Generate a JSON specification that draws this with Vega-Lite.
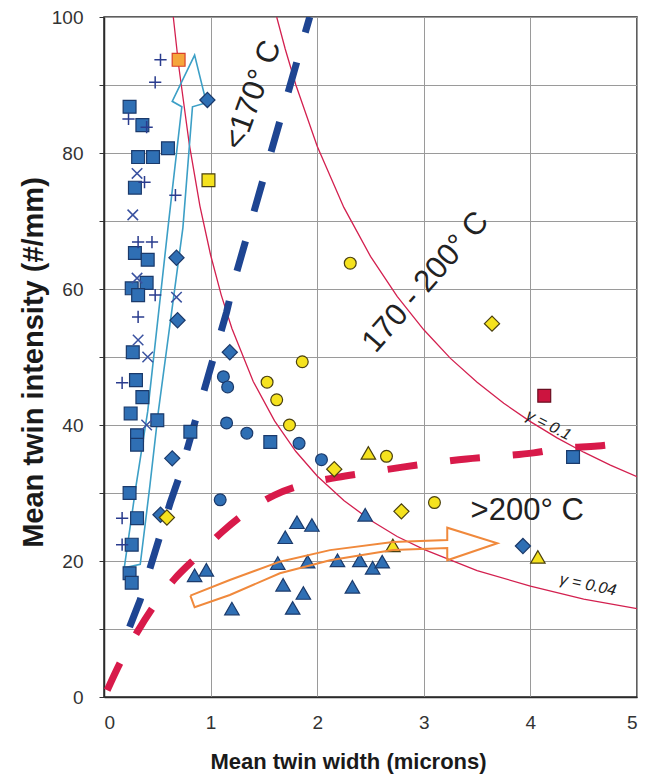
{
  "$schema": "https://vega.github.io/schema/vega-lite/v6.json",
  "width": 533,
  "height": 680,
  "autosize": {"type": "none"},
  "padding": {"left": 104, "top": 17, "right": 17, "bottom": 83},
  "background": "#ffffff",
  "config": {
    "font": "Liberation Sans",
    "view": {"stroke": "#2a2a2a", "strokeWidth": 1.5},
    "axis": {
      "grid": true,
      "gridColor": "#9a9a9a",
      "gridWidth": 1,
      "domainColor": "#2a2a2a",
      "domainWidth": 1.5,
      "labelFont": "Liberation Sans",
      "labelFontSize": 19,
      "labelColor": "#333333",
      "titleFont": "Liberation Sans",
      "titleFontWeight": "bold",
      "titleColor": "#1a1a1a"
    }
  },
  "datasets": {
    "pts": [
      {"x": 0.24, "y": 86.8, "m": "square", "c": "blue"},
      {"x": 0.36, "y": 84.1, "m": "square", "c": "blue"},
      {"x": 0.6, "y": 80.7, "m": "square", "c": "blue"},
      {"x": 0.46, "y": 79.4, "m": "square", "c": "blue"},
      {"x": 0.32, "y": 79.4, "m": "square", "c": "blue"},
      {"x": 0.29, "y": 74.9, "m": "square", "c": "blue"},
      {"x": 0.29, "y": 65.3, "m": "square", "c": "blue"},
      {"x": 0.41, "y": 64.3, "m": "square", "c": "blue"},
      {"x": 0.4, "y": 60.9, "m": "square", "c": "blue"},
      {"x": 0.26, "y": 60.1, "m": "square", "c": "blue"},
      {"x": 0.32, "y": 59.1, "m": "square", "c": "blue"},
      {"x": 0.27, "y": 50.7, "m": "square", "c": "blue"},
      {"x": 0.3, "y": 46.6, "m": "square", "c": "blue"},
      {"x": 0.36, "y": 44.1, "m": "square", "c": "blue"},
      {"x": 0.25, "y": 41.7, "m": "square", "c": "blue"},
      {"x": 0.5, "y": 40.7, "m": "square", "c": "blue"},
      {"x": 0.81, "y": 39.0, "m": "square", "c": "blue"},
      {"x": 0.31, "y": 38.5, "m": "square", "c": "blue"},
      {"x": 0.31, "y": 37.1, "m": "square", "c": "blue"},
      {"x": 0.24, "y": 30.0, "m": "square", "c": "blue"},
      {"x": 0.31, "y": 26.3, "m": "square", "c": "blue"},
      {"x": 0.26, "y": 22.4, "m": "square", "c": "blue"},
      {"x": 0.24, "y": 18.2, "m": "square", "c": "blue"},
      {"x": 0.26, "y": 16.8, "m": "square", "c": "blue"},
      {"x": 1.56, "y": 37.5, "m": "square", "c": "blue"},
      {"x": 4.4, "y": 35.3, "m": "square", "c": "blue"},
      {"x": 0.97, "y": 87.8, "m": "diamond", "c": "blue"},
      {"x": 0.68, "y": 64.6, "m": "diamond", "c": "blue"},
      {"x": 0.69, "y": 55.4, "m": "diamond", "c": "blue"},
      {"x": 1.18, "y": 50.7, "m": "diamond", "c": "blue"},
      {"x": 0.64, "y": 35.1, "m": "diamond", "c": "blue"},
      {"x": 0.53, "y": 26.8, "m": "diamond", "c": "blue"},
      {"x": 3.93, "y": 22.2, "m": "diamond", "c": "blue"},
      {"x": 1.12, "y": 47.1, "m": "circle", "c": "blue"},
      {"x": 1.16, "y": 45.6, "m": "circle", "c": "blue"},
      {"x": 1.15, "y": 40.3, "m": "circle", "c": "blue"},
      {"x": 1.09, "y": 29.0, "m": "circle", "c": "blue"},
      {"x": 1.34, "y": 38.8, "m": "circle", "c": "blue"},
      {"x": 1.83, "y": 37.3, "m": "circle", "c": "blue"},
      {"x": 2.04, "y": 34.9, "m": "circle", "c": "blue"},
      {"x": 0.85, "y": 17.9, "m": "triangle", "c": "blue"},
      {"x": 0.96, "y": 18.7, "m": "triangle", "c": "blue"},
      {"x": 1.2, "y": 13.0, "m": "triangle", "c": "blue"},
      {"x": 1.7, "y": 23.5, "m": "triangle", "c": "blue"},
      {"x": 1.81, "y": 25.7, "m": "triangle", "c": "blue"},
      {"x": 1.95, "y": 25.3, "m": "triangle", "c": "blue"},
      {"x": 1.63, "y": 19.7, "m": "triangle", "c": "blue"},
      {"x": 1.91, "y": 19.9, "m": "triangle", "c": "blue"},
      {"x": 1.68, "y": 16.5, "m": "triangle", "c": "blue"},
      {"x": 1.87, "y": 15.3, "m": "triangle", "c": "blue"},
      {"x": 1.77, "y": 13.1, "m": "triangle", "c": "blue"},
      {"x": 2.19, "y": 20.1, "m": "triangle", "c": "blue"},
      {"x": 2.33, "y": 16.2, "m": "triangle", "c": "blue"},
      {"x": 2.4, "y": 20.1, "m": "triangle", "c": "blue"},
      {"x": 2.45, "y": 26.8, "m": "triangle", "c": "blue"},
      {"x": 2.52, "y": 19.0, "m": "triangle", "c": "blue"},
      {"x": 2.61, "y": 19.9, "m": "triangle", "c": "blue"},
      {"x": 0.98, "y": 76.0, "m": "square", "c": "yellow"},
      {"x": 2.31, "y": 63.8, "m": "circle", "c": "yellow"},
      {"x": 1.86, "y": 49.3, "m": "circle", "c": "yellow"},
      {"x": 1.53, "y": 46.3, "m": "circle", "c": "yellow"},
      {"x": 1.62, "y": 43.7, "m": "circle", "c": "yellow"},
      {"x": 1.74, "y": 40.0, "m": "circle", "c": "yellow"},
      {"x": 2.65, "y": 35.4, "m": "circle", "c": "yellow"},
      {"x": 3.1, "y": 28.6, "m": "circle", "c": "yellow"},
      {"x": 3.64, "y": 54.9, "m": "diamond", "c": "yellow"},
      {"x": 2.16, "y": 33.5, "m": "diamond", "c": "yellow"},
      {"x": 2.79, "y": 27.3, "m": "diamond", "c": "yellow"},
      {"x": 0.59, "y": 26.4, "m": "diamond", "c": "yellow"},
      {"x": 2.48, "y": 35.9, "m": "triangle", "c": "yellow"},
      {"x": 2.71, "y": 22.3, "m": "triangle", "c": "yellow"},
      {"x": 4.07, "y": 20.6, "m": "triangle", "c": "yellow"},
      {"x": 4.13, "y": 44.3, "m": "square", "c": "red"},
      {"x": 0.7, "y": 93.7, "m": "square", "c": "orange"},
      {"x": 0.53, "y": 93.7, "m": "plus", "c": "navy"},
      {"x": 0.48, "y": 90.4, "m": "plus", "c": "navy"},
      {"x": 0.23, "y": 85.0, "m": "plus", "c": "navy"},
      {"x": 0.4, "y": 83.8, "m": "plus", "c": "navy"},
      {"x": 0.38, "y": 75.7, "m": "plus", "c": "navy"},
      {"x": 0.67, "y": 73.8, "m": "plus", "c": "navy"},
      {"x": 0.32, "y": 66.9, "m": "plus", "c": "navy"},
      {"x": 0.45, "y": 66.9, "m": "plus", "c": "navy"},
      {"x": 0.48, "y": 59.1, "m": "plus", "c": "navy"},
      {"x": 0.32, "y": 55.9, "m": "plus", "c": "navy"},
      {"x": 0.17, "y": 46.2, "m": "plus", "c": "navy"},
      {"x": 0.17, "y": 26.3, "m": "plus", "c": "navy"},
      {"x": 0.17, "y": 22.4, "m": "plus", "c": "navy"},
      {"x": 0.31, "y": 77.0, "m": "cross", "c": "navy"},
      {"x": 0.27, "y": 70.9, "m": "cross", "c": "navy"},
      {"x": 0.31, "y": 61.6, "m": "cross", "c": "navy"},
      {"x": 0.68, "y": 58.8, "m": "cross", "c": "navy"},
      {"x": 0.32, "y": 52.5, "m": "cross", "c": "navy"},
      {"x": 0.41, "y": 50.0, "m": "cross", "c": "navy"},
      {"x": 0.4, "y": 40.0, "m": "cross", "c": "navy"}
    ],
    "lines": [
      {"k": "g004", "i": 0, "x": 0.65, "y": 100},
      {"k": "g004", "i": 1, "x": 0.7, "y": 92.9},
      {"k": "g004", "i": 2, "x": 0.8, "y": 81.3},
      {"k": "g004", "i": 3, "x": 0.9, "y": 72.2},
      {"k": "g004", "i": 4, "x": 1.0, "y": 65.0},
      {"k": "g004", "i": 5, "x": 1.1, "y": 59.1},
      {"k": "g004", "i": 6, "x": 1.2, "y": 54.2},
      {"k": "g004", "i": 7, "x": 1.4, "y": 46.4},
      {"k": "g004", "i": 8, "x": 1.6, "y": 40.6},
      {"k": "g004", "i": 9, "x": 1.8, "y": 36.1},
      {"k": "g004", "i": 10, "x": 2.0, "y": 32.5},
      {"k": "g004", "i": 11, "x": 2.25, "y": 28.9},
      {"k": "g004", "i": 12, "x": 2.5, "y": 26.0},
      {"k": "g004", "i": 13, "x": 2.75, "y": 23.6},
      {"k": "g004", "i": 14, "x": 3.0, "y": 21.7},
      {"k": "g004", "i": 15, "x": 3.5, "y": 18.6},
      {"k": "g004", "i": 16, "x": 4.0, "y": 16.3},
      {"k": "g004", "i": 17, "x": 4.5, "y": 14.4},
      {"k": "g004", "i": 18, "x": 5.0, "y": 13.0},
      {"k": "g01", "i": 0, "x": 1.62, "y": 100},
      {"k": "g01", "i": 1, "x": 1.7, "y": 95.3},
      {"k": "g01", "i": 2, "x": 1.8, "y": 90.0},
      {"k": "g01", "i": 3, "x": 2.0, "y": 81.0},
      {"k": "g01", "i": 4, "x": 2.25, "y": 72.0},
      {"k": "g01", "i": 5, "x": 2.5, "y": 64.8},
      {"k": "g01", "i": 6, "x": 2.75, "y": 58.9},
      {"k": "g01", "i": 7, "x": 3.0, "y": 54.0},
      {"k": "g01", "i": 8, "x": 3.25, "y": 49.8},
      {"k": "g01", "i": 9, "x": 3.5, "y": 46.3},
      {"k": "g01", "i": 10, "x": 3.75, "y": 43.2},
      {"k": "g01", "i": 11, "x": 4.0, "y": 40.5},
      {"k": "g01", "i": 12, "x": 4.25, "y": 38.1},
      {"k": "g01", "i": 13, "x": 4.5, "y": 36.0},
      {"k": "g01", "i": 14, "x": 4.75, "y": 34.1},
      {"k": "g01", "i": 15, "x": 5.0, "y": 32.4},
      {"k": "bdash", "i": 0, "x": 0.24, "y": 10.3},
      {"k": "bdash", "i": 1, "x": 0.34, "y": 14.3},
      {"k": "bdash", "i": 2, "x": 0.62, "y": 28.5},
      {"k": "bdash", "i": 3, "x": 0.71, "y": 32.6},
      {"k": "bdash", "i": 4, "x": 1.15, "y": 56.6},
      {"k": "bdash", "i": 5, "x": 1.21, "y": 60.6},
      {"k": "bdash", "i": 6, "x": 1.82, "y": 94.0},
      {"k": "bdash", "i": 7, "x": 1.93, "y": 100},
      {"k": "rdash", "i": 0, "x": 0.03, "y": 1.0},
      {"k": "rdash", "i": 1, "x": 0.15, "y": 5.0},
      {"k": "rdash", "i": 2, "x": 0.31, "y": 9.5},
      {"k": "rdash", "i": 3, "x": 0.46, "y": 13.2},
      {"k": "rdash", "i": 4, "x": 0.67, "y": 17.5},
      {"k": "rdash", "i": 5, "x": 0.87, "y": 20.6},
      {"k": "rdash", "i": 6, "x": 1.11, "y": 24.3},
      {"k": "rdash", "i": 7, "x": 1.32, "y": 27.0},
      {"k": "rdash", "i": 8, "x": 1.6, "y": 29.7},
      {"k": "rdash", "i": 9, "x": 1.86, "y": 31.2},
      {"k": "rdash", "i": 10, "x": 2.19, "y": 32.3},
      {"k": "rdash", "i": 11, "x": 2.47, "y": 33.0},
      {"k": "rdash", "i": 12, "x": 2.8, "y": 33.8},
      {"k": "rdash", "i": 13, "x": 3.08, "y": 34.4},
      {"k": "rdash", "i": 14, "x": 3.4, "y": 35.0},
      {"k": "rdash", "i": 15, "x": 3.7, "y": 35.4},
      {"k": "rdash", "i": 16, "x": 4.03, "y": 35.9},
      {"k": "rdash", "i": 17, "x": 4.3, "y": 36.6},
      {"k": "rdash", "i": 18, "x": 4.63, "y": 36.9},
      {"k": "rdash", "i": 19, "x": 4.97, "y": 37.6},
      {"k": "cyan", "i": 0, "x": 0.19, "y": 19.0},
      {"k": "cyan", "i": 1, "x": 0.3, "y": 31.0},
      {"k": "cyan", "i": 2, "x": 0.41, "y": 42.0},
      {"k": "cyan", "i": 3, "x": 0.6, "y": 69.0},
      {"k": "cyan", "i": 4, "x": 0.73, "y": 86.8},
      {"k": "cyan", "i": 5, "x": 0.64, "y": 87.6},
      {"k": "cyan", "i": 6, "x": 0.85, "y": 94.4},
      {"k": "cyan", "i": 7, "x": 0.96, "y": 87.4},
      {"k": "cyan", "i": 8, "x": 0.83, "y": 86.8},
      {"k": "cyan", "i": 9, "x": 0.74, "y": 69.0},
      {"k": "cyan", "i": 10, "x": 0.51, "y": 42.0},
      {"k": "cyan", "i": 11, "x": 0.43, "y": 31.0},
      {"k": "cyan", "i": 12, "x": 0.34, "y": 19.5},
      {"k": "cyan", "i": 13, "x": 0.19, "y": 19.0},
      {"k": "orange", "i": 0, "x": 0.81, "y": 14.9},
      {"k": "orange", "i": 1, "x": 1.18, "y": 17.2},
      {"k": "orange", "i": 2, "x": 1.65, "y": 19.9},
      {"k": "orange", "i": 3, "x": 2.12, "y": 21.6},
      {"k": "orange", "i": 4, "x": 2.71, "y": 22.8},
      {"k": "orange", "i": 5, "x": 3.22, "y": 23.1},
      {"k": "orange", "i": 6, "x": 3.22, "y": 24.9},
      {"k": "orange", "i": 7, "x": 3.69, "y": 22.6},
      {"k": "orange", "i": 8, "x": 3.22, "y": 20.1},
      {"k": "orange", "i": 9, "x": 3.22, "y": 21.9},
      {"k": "orange", "i": 10, "x": 2.71, "y": 21.6},
      {"k": "orange", "i": 11, "x": 2.12, "y": 20.1},
      {"k": "orange", "i": 12, "x": 1.65, "y": 18.2},
      {"k": "orange", "i": 13, "x": 1.18, "y": 15.0},
      {"k": "orange", "i": 14, "x": 0.85, "y": 13.2},
      {"k": "orange", "i": 15, "x": 0.81, "y": 14.9}
    ]
  },
  "encoding": {
    "x": {
      "field": "x",
      "type": "quantitative",
      "scale": {"domain": [0, 5], "nice": false, "zero": false},
      "axis": {
        "title": "Mean twin width (microns)",
        "values": [0, 1, 2, 3, 4, 5],
        "ticks": false,
        "labelPadding": 16,
        "labelDx": -5,
        "titleFontSize": 22,
        "titleX": 244,
        "titleY": 71,
        "titleBaseline": "alphabetic"
      }
    },
    "y": {
      "field": "y",
      "type": "quantitative",
      "scale": {"domain": [0, 100], "nice": false, "zero": false},
      "axis": {
        "title": "Mean twin intensity (#/mm)",
        "values": [0, 10, 20, 30, 40, 50, 60, 70, 80, 90, 100],
        "labelExpr": "datum.value % 20 === 0 ? datum.label : ''",
        "tickSize": 5,
        "tickColor": "#333333",
        "labelPadding": 16,
        "titleFontSize": 29,
        "titleX": -71,
        "titleY": 345,
        "titleBaseline": "middle"
      }
    }
  },
  "layer": [
    {
      "data": {"name": "lines"},
      "transform": [{"filter": "datum.k == 'g004' || datum.k == 'g01'"}],
      "mark": {"type": "line", "stroke": "#d3204f", "strokeWidth": 1.3, "clip": true},
      "encoding": {"detail": {"field": "k"}, "order": {"field": "i", "type": "quantitative"}}
    },
    {
      "data": {"name": "lines"},
      "transform": [{"filter": "datum.k == 'cyan'"}],
      "mark": {"type": "line", "stroke": "#3c9fc6", "strokeWidth": 1.6, "clip": true},
      "encoding": {"order": {"field": "i", "type": "quantitative"}}
    },
    {
      "data": {"name": "lines"},
      "transform": [{"filter": "datum.k == 'bdash'"}],
      "mark": {"type": "line", "stroke": "#1e4592", "strokeWidth": 7, "strokeDash": [31, 31], "strokeCap": "butt", "clip": true},
      "encoding": {"order": {"field": "i", "type": "quantitative"}}
    },
    {
      "data": {"name": "lines"},
      "transform": [{"filter": "datum.k == 'rdash'"}],
      "mark": {"type": "line", "stroke": "#d81a4a", "strokeWidth": 7, "strokeDash": [30, 33], "strokeCap": "butt", "interpolate": "monotone", "clip": true},
      "encoding": {"order": {"field": "i", "type": "quantitative"}}
    },
    {
      "data": {"name": "pts"},
      "transform": [{"filter": "datum.m == 'square'"}],
      "mark": {"type": "point", "shape": "square", "size": 165, "filled": true, "strokeWidth": 1.2, "opacity": 1},
      "encoding": {
        "fill": {"field": "c", "type": "nominal", "scale": {"domain": ["blue", "yellow", "red", "orange"], "range": ["#2f6fb4", "#f5e21e", "#cc143f", "#f5a63c"]}, "legend": null},
        "stroke": {"field": "c", "type": "nominal", "scale": {"domain": ["blue", "yellow", "red", "orange"], "range": ["#1b3a6b", "#4a4010", "#6a0f22", "#d8402a"]}, "legend": null}
      }
    },
    {
      "data": {"name": "pts"},
      "transform": [{"filter": "datum.m == 'circle'"}],
      "mark": {"type": "point", "shape": "circle", "size": 140, "filled": true, "strokeWidth": 1.2, "opacity": 1},
      "encoding": {
        "fill": {"field": "c", "type": "nominal", "scale": {"domain": ["blue", "yellow", "red", "orange"], "range": ["#2f6fb4", "#f5e21e", "#cc143f", "#f5a63c"]}, "legend": null},
        "stroke": {"field": "c", "type": "nominal", "scale": {"domain": ["blue", "yellow", "red", "orange"], "range": ["#1b3a6b", "#4a4010", "#6a0f22", "#d8402a"]}, "legend": null}
      }
    },
    {
      "data": {"name": "pts"},
      "transform": [{"filter": "datum.m == 'diamond'"}],
      "mark": {"type": "point", "shape": "diamond", "size": 230, "filled": true, "strokeWidth": 1.2, "opacity": 1},
      "encoding": {
        "fill": {"field": "c", "type": "nominal", "scale": {"domain": ["blue", "yellow", "red", "orange"], "range": ["#2f6fb4", "#f5e21e", "#cc143f", "#f5a63c"]}, "legend": null},
        "stroke": {"field": "c", "type": "nominal", "scale": {"domain": ["blue", "yellow", "red", "orange"], "range": ["#1b3a6b", "#4a4010", "#6a0f22", "#d8402a"]}, "legend": null}
      }
    },
    {
      "data": {"name": "pts"},
      "transform": [{"filter": "datum.m == 'triangle'"}],
      "mark": {"type": "point", "shape": "triangle-up", "size": 210, "filled": true, "strokeWidth": 1.2, "opacity": 1},
      "encoding": {
        "fill": {"field": "c", "type": "nominal", "scale": {"domain": ["blue", "yellow", "red", "orange"], "range": ["#2f6fb4", "#f5e21e", "#cc143f", "#f5a63c"]}, "legend": null},
        "stroke": {"field": "c", "type": "nominal", "scale": {"domain": ["blue", "yellow", "red", "orange"], "range": ["#1b3a6b", "#4a4010", "#6a0f22", "#d8402a"]}, "legend": null}
      }
    },
    {
      "data": {"name": "pts"},
      "transform": [{"filter": "datum.m == 'plus'"}],
      "mark": {"type": "point", "shape": "M-1,0H1M0,-1V1", "filled": false, "stroke": "#2a3c8e", "strokeWidth": 1.5, "size": 150, "opacity": 1}
    },
    {
      "data": {"name": "pts"},
      "transform": [{"filter": "datum.m == 'cross'"}],
      "mark": {"type": "point", "shape": "M-1,-1L1,1M-1,1L1,-1", "filled": false, "stroke": "#3a52a0", "strokeWidth": 1.5, "size": 110, "opacity": 1}
    },
    {
      "data": {"name": "lines"},
      "transform": [{"filter": "datum.k == 'orange'"}],
      "mark": {"type": "line", "stroke": "#f0893c", "strokeWidth": 2, "clip": true},
      "encoding": {"order": {"field": "i", "type": "quantitative"}}
    },
    {
      "data": {"values": [{"x": 1.4, "y": 88.5, "t": "<170° C"}]},
      "mark": {"type": "text", "angle": -70, "fontSize": 31, "align": "center", "baseline": "middle", "color": "#222222"},
      "encoding": {"text": {"field": "t"}}
    },
    {
      "data": {"values": [{"x": 3.02, "y": 61, "t": "170 - 200° C"}]},
      "mark": {"type": "text", "angle": -49, "fontSize": 31, "align": "center", "baseline": "middle", "color": "#222222"},
      "encoding": {"text": {"field": "t"}}
    },
    {
      "data": {"values": [{"x": 3.97, "y": 27.4, "t": ">200° C"}]},
      "mark": {"type": "text", "angle": 0, "fontSize": 31, "align": "center", "baseline": "middle", "color": "#222222"},
      "encoding": {"text": {"field": "t"}}
    },
    {
      "data": {"values": [{"x": 4.17, "y": 40, "t": "γ = 0.1"}]},
      "mark": {"type": "text", "angle": 27, "fontSize": 16, "fontStyle": "italic", "align": "center", "baseline": "middle", "color": "#222222"},
      "encoding": {"text": {"field": "t"}}
    },
    {
      "data": {"values": [{"x": 4.54, "y": 16.5, "t": "γ = 0.04"}]},
      "mark": {"type": "text", "angle": 12, "fontSize": 16, "fontStyle": "italic", "align": "center", "baseline": "middle", "color": "#222222"},
      "encoding": {"text": {"field": "t"}}
    }
  ]
}
